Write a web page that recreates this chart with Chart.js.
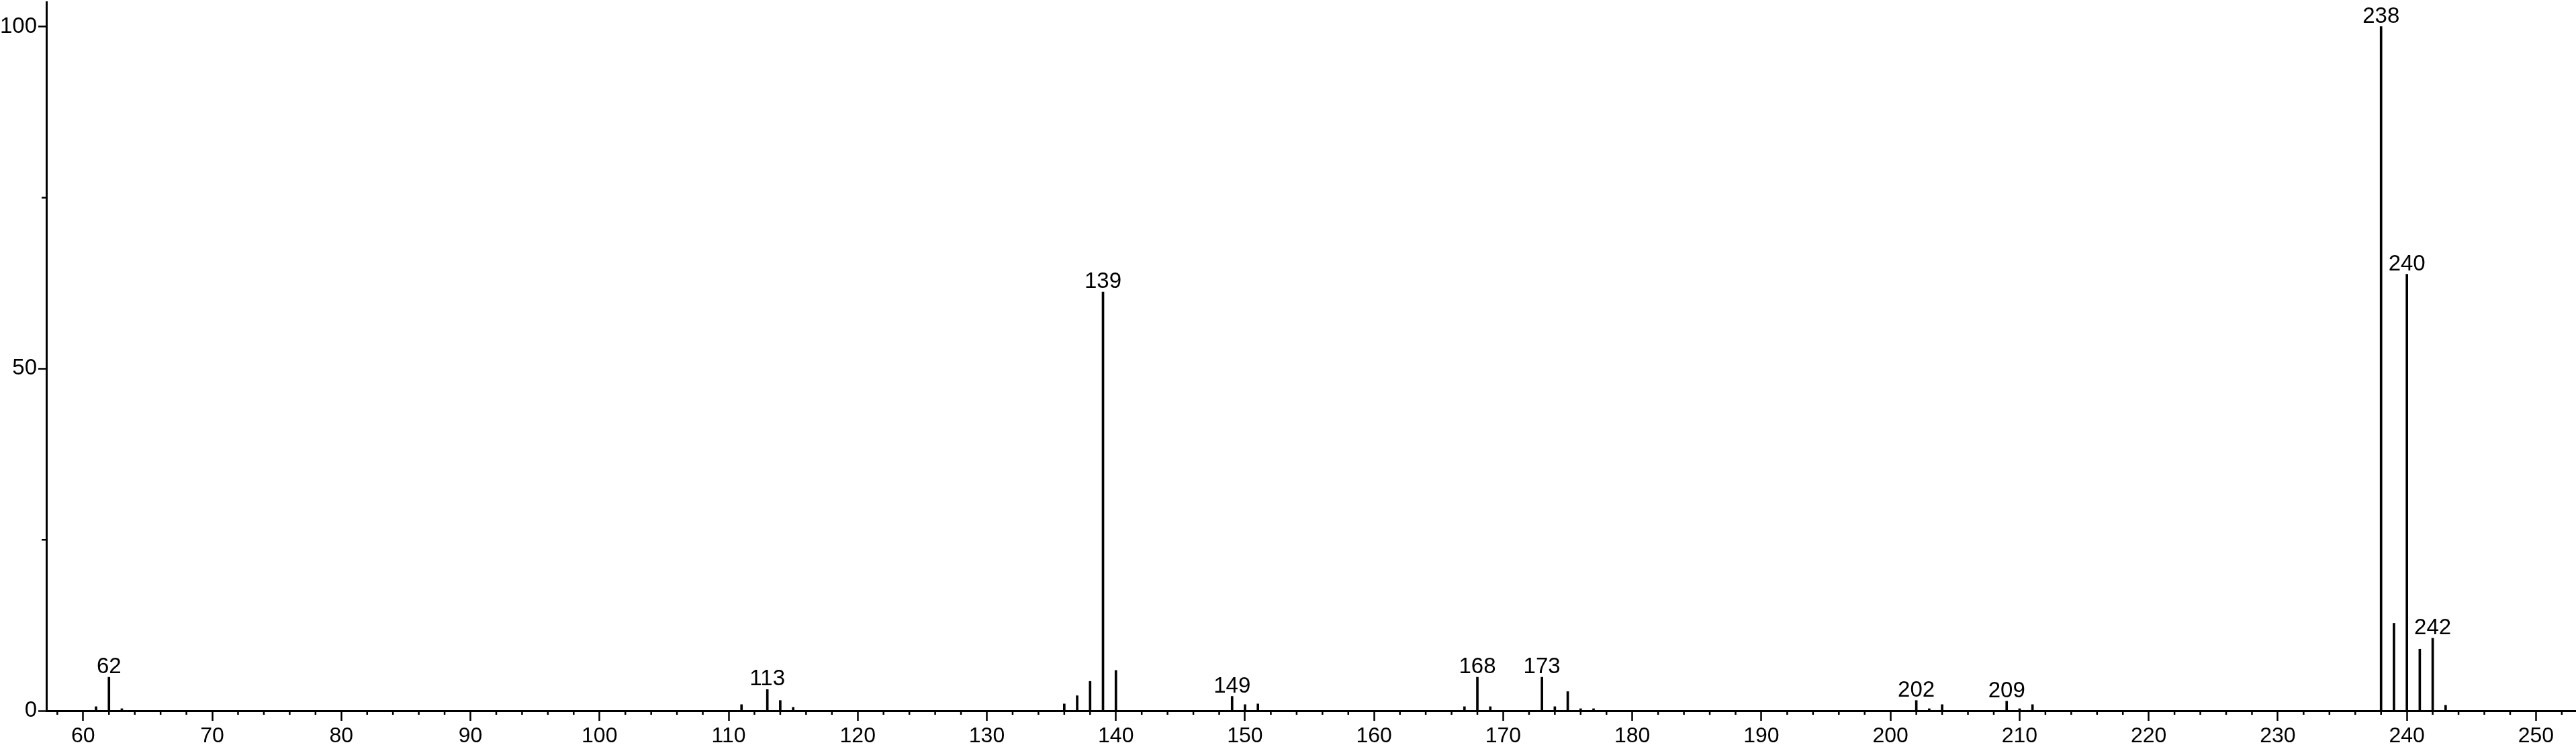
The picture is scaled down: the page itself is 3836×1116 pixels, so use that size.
<!DOCTYPE html>
<html>
<head>
<meta charset="utf-8">
<title>Mass spectrum</title>
<script src="https://cdn.jsdelivr.net/npm/chart.js@4/dist/chart.umd.min.js"></script>
<style>
    body { margin: 0; background: #fff; overflow: hidden; }
    canvas { display: block; }
</style>
</head>
<body>
<canvas id="spectrum" width="3836" height="1116"></canvas>
<script>
// peaks (m/z and relative intensity)
const mz = [61, 62, 63, 111, 113, 114, 115, 136, 137, 138, 139, 140,
    149, 150, 151, 167, 168, 169, 173, 174, 175, 176, 177,
    202, 203, 204, 209, 210, 211, 238, 239, 240, 241, 242, 243];
const intensity = [0.6, 4.9, 0.3, 0.9, 3.1, 1.5, 0.5, 1.0, 2.2, 4.3, 61.2, 5.9,
    2.1, 0.9, 1.0, 0.6, 4.9, 0.6, 4.9, 0.6, 2.8, 0.3, 0.3,
    1.5, 0.3, 0.9, 1.4, 0.3, 0.9, 100, 12.8, 63.8, 9.0, 10.6, 0.8];
const labeledPeaks = [62, 113, 139, 149, 168, 173, 202, 209, 238, 240, 242];

const xTickValues = [60, 70, 80, 90, 100, 110, 120, 130, 140, 150, 160, 170, 180, 190, 200, 210, 220, 230, 240, 250];
const yTickValues = [0, 50, 100];
const yMinorTicks = [25, 75];
const xMinorStep = 2;

const FONT = '"Liberation Sans", Arial, sans-serif';

// short ticks between the labelled ones
const minorTicks = {
    id: 'minorTicks',
    afterDraw(chart) {
        const ctx = chart.ctx;
        const x = chart.scales.x;
        const y = chart.scales.y;
        ctx.save();
        ctx.strokeStyle = '#000';
        ctx.lineWidth = 2.5;
        ctx.beginPath();
        for (let v = Math.ceil(x.min / xMinorStep) * xMinorStep; v <= x.max; v += xMinorStep) {
            if (v % 10 === 0) continue;
            const px = x.getPixelForValue(v);
            ctx.moveTo(px, x.top);
            ctx.lineTo(px, x.top + 6);
        }
        yMinorTicks.forEach(function(v) {
            const py = y.getPixelForValue(v);
            ctx.moveTo(y.right, py);
            ctx.lineTo(y.right - 7, py);
        });
        ctx.stroke();
        ctx.restore();
    }
};

// m/z numbers above the main peaks
const peakLabels = {
    id: 'peakLabels',
    afterDatasetsDraw(chart) {
        const ctx = chart.ctx;
        const meta = chart.getDatasetMeta(0);
        ctx.save();
        ctx.fillStyle = '#000';
        ctx.font = '33px ' + FONT;
        ctx.textAlign = 'center';
        ctx.textBaseline = 'alphabetic';
        meta.data.forEach(function(bar, i) {
            if (labeledPeaks.includes(mz[i])) {
                ctx.fillText(String(mz[i]), bar.x, bar.y - 6);
            }
        });
        ctx.restore();
    }
};

const ctx = document.getElementById('spectrum').getContext('2d');

new Chart(ctx, {
    type: 'bar',
    data: {
        datasets: [{
            data: mz.map((m, i) => ({ x: m, y: intensity[i] })),
            backgroundColor: '#000',
            borderWidth: 0,
            barThickness: 3
        }]
    },
    options: {
        responsive: false,
        animation: false,
        devicePixelRatio: 1,
        layout: { padding: { top: 3, left: 0, right: 0, bottom: 0 } },
        plugins: {
            legend: { display: false },
            tooltip: { enabled: false }
        },
        scales: {
            x: {
                type: 'linear',
                min: 57.15,
                max: 253.1,
                offset: false,
                grid: { offset: false, drawOnChartArea: false, tickLength: 15, tickWidth: 2.5, tickColor: '#000' },
                border: { display: true, color: '#000', width: 3 },
                ticks: { color: '#000', font: { family: FONT, size: 32 }, padding: 4, maxRotation: 0, autoSkip: false },
                afterBuildTicks: function(s) { s.ticks = xTickValues.map(v => ({ value: v })); },
                afterFit: function(s) { s.height = 57; s.paddingLeft = 0; s.paddingRight = 0; }
            },
            y: {
                min: 0,
                max: 103.6,
                grid: { drawOnChartArea: false, tickLength: 12, tickWidth: 2.5, tickColor: '#000' },
                border: { display: true, color: '#000', width: 3 },
                ticks: { color: '#000', font: { family: FONT, size: 33 }, padding: 2 },
                afterBuildTicks: function(s) { s.ticks = yTickValues.map(v => ({ value: v })); },
                afterFit: function(s) { s.width = 69; s.paddingTop = 0; s.paddingBottom = 0; }
            }
        }
    },
    plugins: [minorTicks, peakLabels]
});
</script>
</body>
</html>
